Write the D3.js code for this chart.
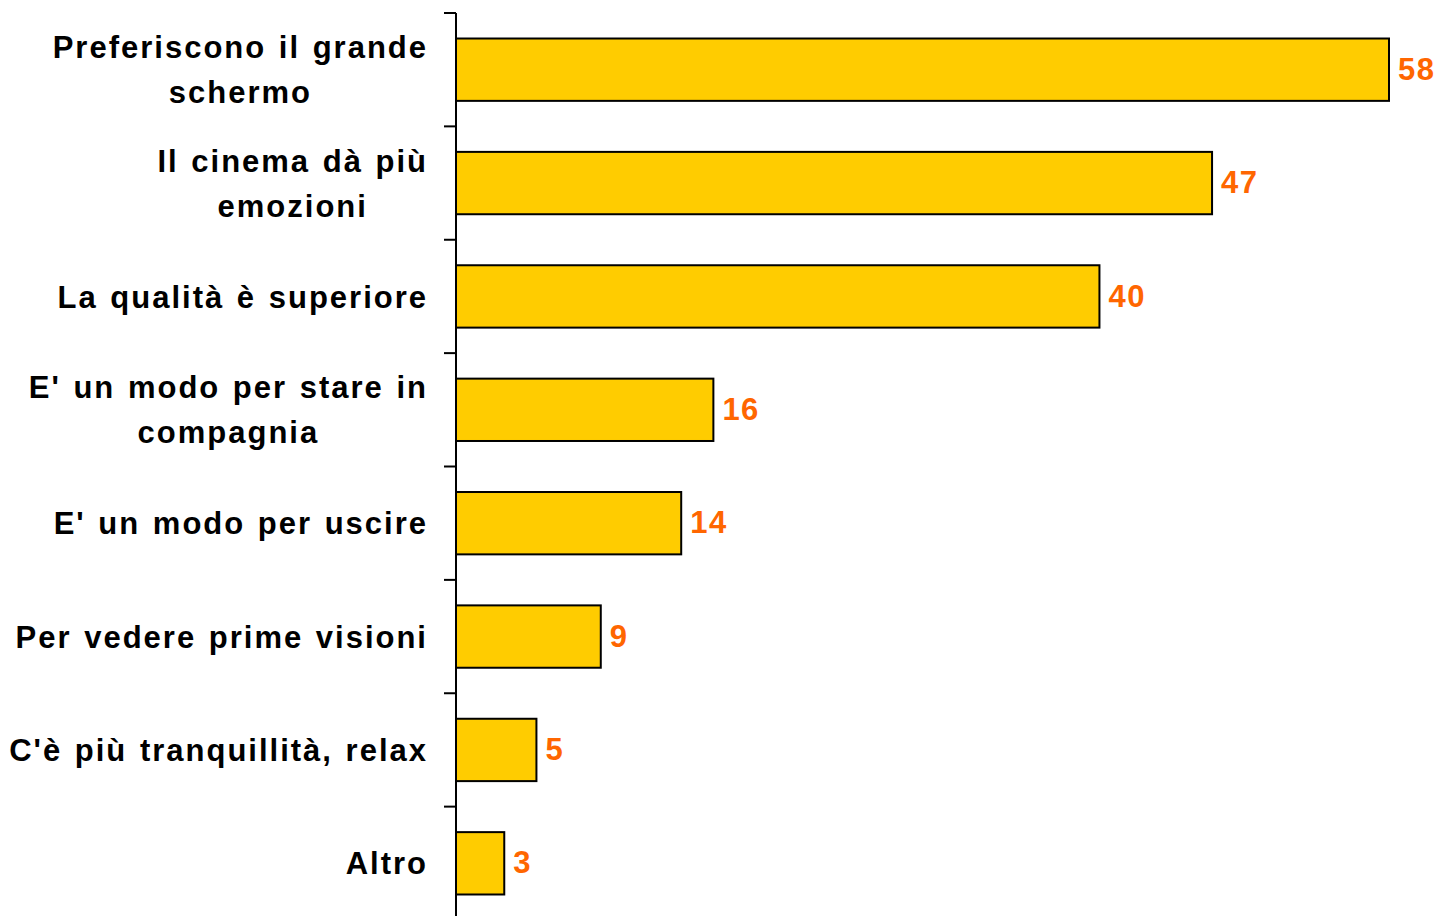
<!DOCTYPE html>
<html>
<head>
<meta charset="utf-8">
<script src="https://cdn.jsdelivr.net/npm/d3@7"></script>
<style>
body { margin: 0; background: #fff; }
</style>
</head>
<body>
<svg width="1443" height="916"></svg>
<script>
// categories, line breaks marked with |
var categories = [
  "Preferiscono il grande|schermo",
  "Il cinema dà più|emozioni",
  "La qualità è superiore",
  "E' un modo per stare in|compagnia",
  "E' un modo per uscire",
  "Per vedere prime visioni",
  "C'è più tranquillità, relax",
  "Altro"
];
var values = [58, 47, 40, 16, 14, 9, 5, 3];

var data = categories.map(function(c, i) { return { cat: c, value: values[i] }; });

var svg = d3.select("svg");
var left = 456;
var font = "'Liberation Sans', Arial, sans-serif";

var x = d3.scaleLinear().domain([0, 58]).range([left, 1389]);
var yTicks = d3.scaleBand().domain(categories).range([13, 920]).padding(0);
var y = d3.scaleBand().domain(categories).range([13, 920])
  .paddingInner(0.45).paddingOuter(0.225);

// axis line and ticks
svg.append("line")
  .attr("x1", left).attr("x2", left)
  .attr("y1", 13).attr("y2", 916)
  .attr("stroke", "black").attr("stroke-width", 2);

svg.selectAll(".tick")
  .data(categories)
  .enter().append("line")
  .attr("class", "tick")
  .attr("x1", left - 12).attr("x2", left)
  .attr("y1", function(d) { return yTicks(d); })
  .attr("y2", function(d) { return yTicks(d); })
  .attr("stroke", "black").attr("stroke-width", 2);

// bars
svg.selectAll(".bar")
  .data(data)
  .enter().append("rect")
  .attr("class", "bar")
  .attr("x", x(0))
  .attr("y", function(d) { return y(d.cat); })
  .attr("width", function(d) { return x(d.value) - x(0); })
  .attr("height", y.bandwidth())
  .attr("fill", "#FFCC00")
  .attr("stroke", "black")
  .attr("stroke-width", 2);

// value labels
svg.selectAll(".val")
  .data(data)
  .enter().append("text")
  .attr("class", "val")
  .attr("x", function(d) { return x(d.value) + 9; })
  .attr("y", function(d) { return y(d.cat) + y.bandwidth() / 2 - 1; })
  .attr("dy", "0.36em")
  .attr("font-family", font)
  .attr("font-weight", "bold")
  .attr("font-size", "31px")
  .attr("letter-spacing", "1.5px")
  .attr("fill", "#FF6600")
  .text(function(d) { return d.value; });

// category labels, centred lines, block right-aligned
var labels = svg.selectAll(".lab")
  .data(data)
  .enter().append("text")
  .attr("class", "lab")
  .attr("font-family", font)
  .attr("font-weight", "bold")
  .attr("font-size", "31px")
  .attr("letter-spacing", "2px")
  .attr("word-spacing", "2px")
  .attr("fill", "black")
  .attr("text-anchor", "middle");

labels.each(function(d) {
  var t = d3.select(this);
  var lines = d.cat.split("|");
  var cy = y(d.cat) + y.bandwidth() / 2;
  var lh = 45;
  lines.forEach(function(l, i) {
    t.append("tspan")
      .attr("x", 0)
      .attr("y", cy + (i - (lines.length - 1) / 2) * lh)
      .attr("dy", "0.36em")
      .text(l);
  });
  var w = this.getBBox().width;
  t.selectAll("tspan").attr("x", 428 - w / 2);
});
</script>
</body>
</html>
